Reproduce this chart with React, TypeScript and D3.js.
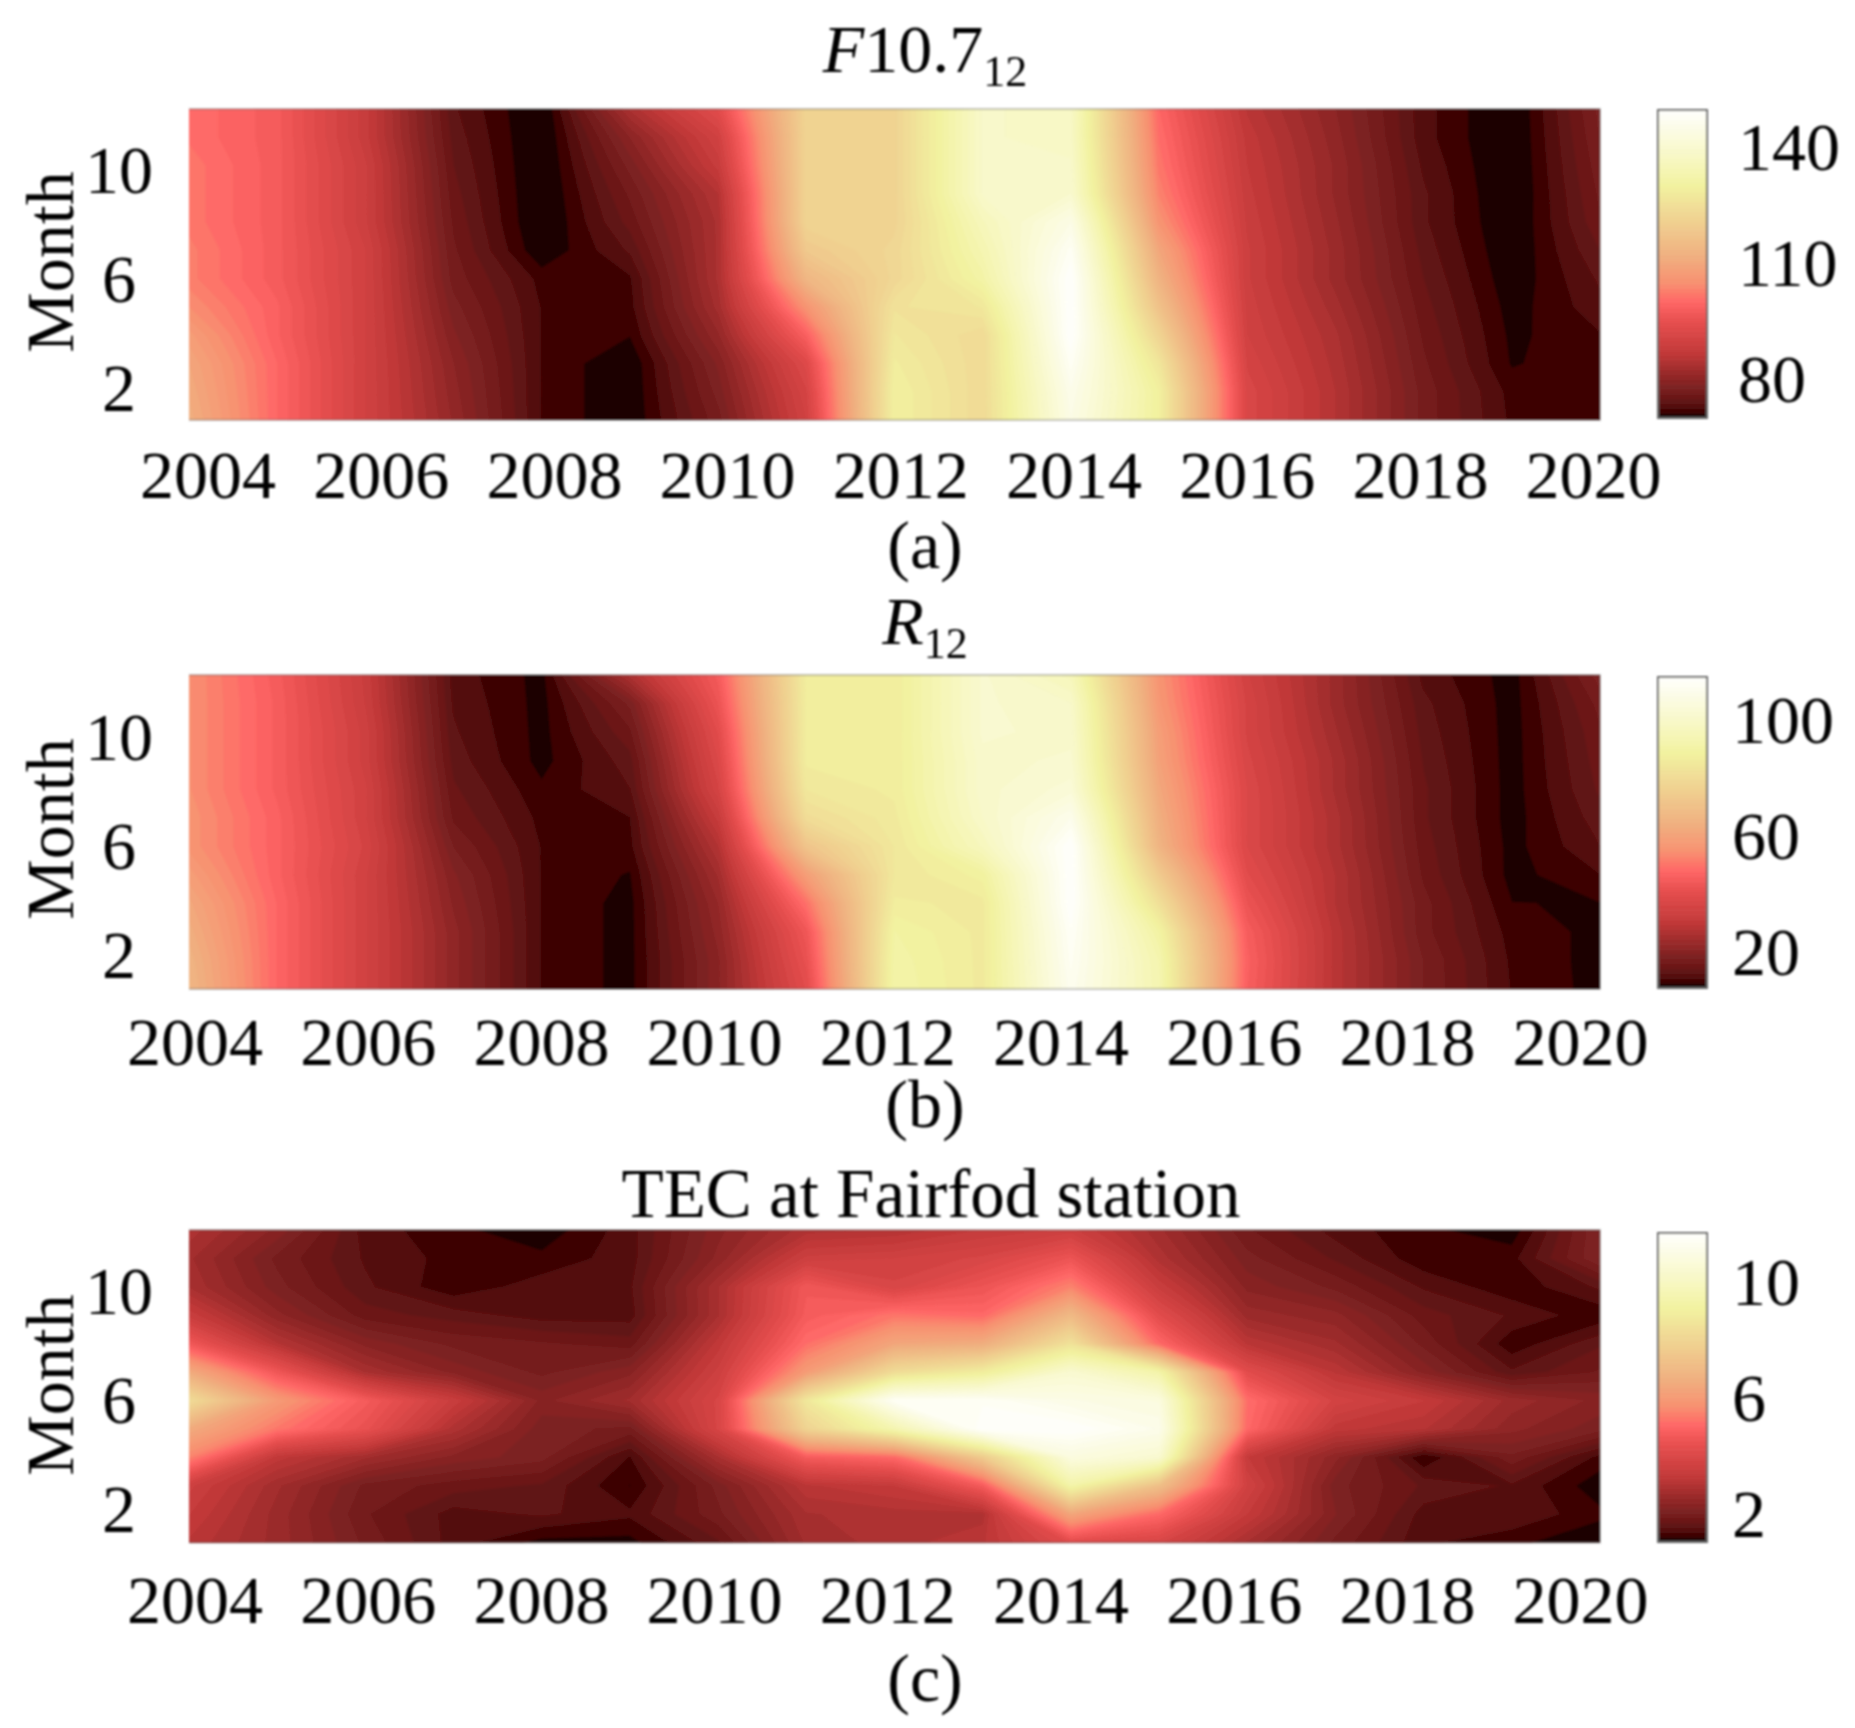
import React from "react";
import * as d3 from "d3";

const years = d3.range(2004, 2021);
const yearTicks = [2004, 2006, 2008, 2010, 2012, 2014, 2016, 2018, 2020];
const monthTicks = [2, 6, 10];

// rows: month 1 .. month 12, columns: 2004 .. 2020
const f107 = [
  [112,100,90,81,72.4,70,77,90,130,124,145,130,92,85,77,72.2,72],
  [111,100,90,80.5,72.4,70,78,91,130,124,146,130,92,85,77,72,72],
  [110,100,90,80,72.4,70,79,93,129,124,148,127,91,84.5,76.5,71.1,72.2],
  [108,99,90,79,72.4,71.3,81,99,127.6,124,150,122,90,84,76,70.9,72.4],
  [105,99,90,78,72.4,72,83,106,126,127.6,150,117,89.5,83,75.5,70.6,73.3],
  [103,98,90,77,72,72.3,84,114,123,132,150,113,89,82,75,70.2,74],
  [103,98,90,76.5,70,74,84,119,123,134,148,110,89,82,74.5,69.9,75],
  [102,98,89,76,69.5,75.5,84,122,122,136,145,106,88.5,81.5,74,69.7,76],
  [102,98,89,75.5,69.5,76.5,85,122,122,139,140,103.5,88,81,74,69.5,76.5],
  [102,98,89,75,69.5,78,88,122,122,139,139,102,87.5,81,73.5,69.5,77],
  [101,98,88,74.5,69.5,80,90,122,122,139,138,101,87,80.5,73,69.5,77.5],
  [101,98,88,74,69.5,84,94,122,122,139,138,100,86,80,73,69.5,78],
];
const r12 = [
  [67,48,35,22,11.2,9,21,40,91.5,86,111,93.6,46.5,29,18,11.2,9],
  [66,48,35,22,11.2,9,21,42,91,86,112,93,47,29,18,11,9],
  [64,48,35,22,11.2,9,22,44,90,86,113,90,46,29,17,10.6,9.2],
  [62,48,35,21,11.2,9,23,50,87,86,115,82,43,28,17,9.7,9.6],
  [59,47,35,20,11.2,9.5,25,59,85,89,115,74,40,28,16,9,11.3],
  [56,47,36,18,11.2,10.8,28,72,85,97,115,66,38,27,15.5,9,13],
  [56,47,35,16,10.8,11.3,32,81,86,100,110,64,38,27,15,8.8,14],
  [55,46,35,15,10,13,36,85,87,101,104,62,38,26,15,8.8,15],
  [55,46,34,14,9,14,38,87,87,101,102,60,37,26,14.5,8.8,15.5],
  [55,46,34,13.3,9,16,40,87,87,102,101,59,36,25,14,8.8,16],
  [55,46,33,12.8,9,18.5,43,87,87,102,100,57,36,24,13.5,8.8,17],
  [55,45.5,32.6,12.3,9,27,45.5,87,87,102,96,56,35,24,12.5,8.8,19],
];
const tec = [
  [3.14,2.6,1.96,1.43,1.1,1.1,1.64,2.71,2.93,3.14,4.21,3.89,2.82,1.96,1.37,1.21,1.02],
  [3.35,2.6,1.86,1.43,1.54,1.37,1.96,2.82,2.93,2.93,6.35,5.07,3.35,2.18,1.43,1.48,1.21],
  [3.57,2.71,1.96,1.75,1.64,1.16,2.07,3.14,3.35,4.75,9.35,7.21,3.68,2.07,1.64,1.48,1.05],
  [5.5,3.25,2.71,2.28,2.07,1.32,2.82,4.75,5.07,7.63,10.84,10.42,3.35,2.39,1.16,1.96,1.27],
  [6.5,5.3,4.42,2.93,2.07,1.96,3.89,7.96,9.56,11.7,11.7,11.17,5.07,3.25,3.03,2.39,2.07],
  [8.28,6,4.75,3.46,2.28,2.71,3.89,8.7,11.49,11.49,11.06,10.84,5.17,3.78,3.35,2.6,2.28],
  [6.5,4.6,2.82,2.28,1.96,2.28,3.57,6.03,8.28,8.92,10.42,9.35,4.21,3.14,2.28,1.54,1.86],
  [4.64,3.03,2.28,1.96,1.86,1.75,3.25,5.17,6.35,6.56,8.49,5.07,3.14,2.71,1.96,1.21,1.64],
  [3.46,2.39,1.75,1.59,1.43,1.43,2.82,4.75,5.28,5.07,6.99,4.21,2.6,2.39,1.75,1.48,1.21],
  [2.82,2.07,1.54,1.21,1.43,1.48,2.82,4.64,3.89,4.53,5.49,3.46,2.28,1.96,1.48,1.21,1.54],
  [2.71,1.96,1.48,1.27,1.21,1.43,2.39,3.57,3.68,3.89,4.53,2.93,2.07,1.64,1.21,1.27,2.18],
  [2.93,2.28,1.43,1.21,1.05,1.43,2.28,2.93,3.03,3.35,3.57,2.71,1.86,1.43,1.21,1.05,2.18],
];

const cmapStops = [0, 0.0156, 0.031, 0.047, 0.0625, 0.09, 0.2, 0.31, 0.37, 0.43, 0.52, 0.63, 0.75, 0.85, 1];
const cmapColors = ["#1e0000", "#3e0606", "#520c0c", "#601212", "#6c1818", "#7a2020", "#c03838", "#e85050", "#ff6666", "#f89070", "#f0b080", "#f0d090", "#f2f2a0", "#f8f8c8", "#ffffff"];

const LEVELS = 64;
const cmap = d3.scaleLinear<string>().domain(cmapStops).range(cmapColors).interpolate(d3.interpolateRgb).clamp(true);

const serif = "'Liberation Serif', serif";
const FS = 68;
const PLOT_L = 189;
const PLOT_R = 1600;
const BAR_L = 1658;
const BAR_R = 1707;

type Panel = {
  id: string;
  values: number[][];
  domain: [number, number];
  cbTicks: number[];
  top: number;
  bottom: number;
  barTop: number;
  barBottom: number;
  cbTickPos: [number, number];
  cbX: number;
  xLabelBase: number;
  xLabelShift: number;
  title: React.ReactNode;
  titleBase: number;
  titleX: number;
  titleSize: number;
  tag: string;
  tagBase: number;
  monthY: number;
};

const sub = (text: string) => <tspan fontSize={44} dy={14}>{text}</tspan>;

const panels: Panel[] = [
  {
    id: "a", values: f107, domain: [70, 150], cbTicks: [80, 110, 140],
    top: 109, bottom: 420, barTop: 110, barBottom: 418, cbTickPos: [402, 170], cbX: 1738,
    xLabelBase: 498, xLabelShift: 19,
    title: (<><tspan fontStyle="italic">F</tspan><tspan>10.7</tspan>{sub("12")}</>),
    titleBase: 72, titleX: 925, titleSize: 68, tag: "(a)", tagBase: 568, monthY: 262,
  },
  {
    id: "b", values: r12, domain: [8, 115], cbTicks: [20, 60, 100],
    top: 675, bottom: 989, barTop: 677, barBottom: 988, cbTickPos: [975, 743], cbX: 1732,
    xLabelBase: 1065, xLabelShift: 6,
    title: (<><tspan fontStyle="italic">R</tspan>{sub("12")}</>),
    titleBase: 644, titleX: 925, titleSize: 68, tag: "(b)", tagBase: 1127, monthY: 829,
  },
  {
    id: "c", values: tec, domain: [1, 11.7], cbTicks: [2, 6, 10],
    top: 1230, bottom: 1542.5, barTop: 1233, barBottom: 1542, cbTickPos: [1537, 1305], cbX: 1732,
    xLabelBase: 1623, xLabelShift: 6,
    title: <tspan>TEC at Fairfod station</tspan>,
    titleBase: 1217, titleX: 931, titleSize: 69, tag: "(c)", tagBase: 1701, monthY: 1385,
  },
];

function HeatPanel({ p }: { p: Panel }) {
  const [lo, hi] = p.domain;
  const nCols = years.length;
  const nRows = p.values.length;
  const flat = p.values.flat();
  const step = (hi - lo) / LEVELS;
  const thresholds = d3.range(LEVELS).map((i) => lo + step * i);
  const toT = d3.scaleLinear().domain([lo, hi]).range([0, 1]);
  const colour = (v: number) => cmap(toT(v));
  const gx = d3.scaleLinear().domain([0, nCols - 1]).range([PLOT_L, PLOT_R]);
  const gy = d3.scaleLinear().domain([0, nRows - 1]).range([p.bottom, p.top]);
  const month = d3.scaleLinear().domain([1, 12]).range([p.bottom, p.top]);
  const year = d3.scaleLinear().domain([2004, 2020]).range([PLOT_L, PLOT_L + 86.6 * 16]);
  const mid = month(6) + 23;
  const monthLabel = d3.scaleLinear().domain([2, 6, 10]).range([mid + 109, mid, mid - 109]);
  const contours = d3.contours().size([nCols, nRows]).smooth(true).thresholds(thresholds)(flat);
  const path = d3.geoPath(
    d3.geoTransform({
      point(x: number, y: number) {
        (this as any).stream.point(gx(x - 0.5), gy(y - 0.5));
      },
    })
  );
  const barY = d3.scaleLinear().domain([lo, hi]).range([p.barBottom, p.barTop]);
  const tickY = d3.scaleLinear().domain([p.cbTicks[0], p.cbTicks[2]]).range(p.cbTickPos);
  const clip = `clip-${p.id}`;
  return (
    <g>
      <clipPath id={clip}>
        <rect x={PLOT_L} y={p.top} width={PLOT_R - PLOT_L} height={p.bottom - p.top} />
      </clipPath>
      <g clipPath={`url(#${clip})`}>
        <rect x={PLOT_L} y={p.top} width={PLOT_R - PLOT_L} height={p.bottom - p.top} fill={colour(lo)} />
        {contours.map((c, i) => (
          <path key={i} d={path(c as any) || ""} fill={colour(c.value)} stroke={colour(c.value)} strokeWidth={0.4} />
        ))}
      </g>
      <path d={`M${PLOT_L},${p.top}H${PLOT_R}V${p.bottom}H${PLOT_L}`} fill="none" stroke="#555" strokeOpacity={0.5} strokeWidth={1.5} />
      <text x={p.titleX} y={p.titleBase} textAnchor="middle" fontSize={p.titleSize}>{p.title}</text>
      <text transform={`translate(73,${p.monthY}) rotate(-90)`} textAnchor="middle" fontSize={FS}>Month</text>
      {monthTicks.map((m) => (
        <text key={m} x={119} y={monthLabel(m)} textAnchor="middle" fontSize={FS}>{m}</text>
      ))}
      {yearTicks.map((y) => (
        <text key={y} x={year(y) + p.xLabelShift} y={p.xLabelBase} textAnchor="middle" fontSize={FS}>{y}</text>
      ))}
      <text x={925} y={p.tagBase} textAnchor="middle" fontSize={FS}>{p.tag}</text>
      {thresholds.map((t, i) => (
        <rect key={i} x={BAR_L} width={BAR_R - BAR_L} y={barY(t + step)} height={barY(t) - barY(t + step) + 0.6} fill={colour(t)} />
      ))}
      <rect x={BAR_L} y={p.barTop} width={BAR_R - BAR_L} height={p.barBottom - p.barTop} fill="none" stroke="#666" strokeWidth={2} />
      {p.cbTicks.map((t) => (
        <text key={t} x={p.cbX} y={tickY(t)} fontSize={FS}>{t}</text>
      ))}
    </g>
  );
}

export default function App() {
  return (
    <svg width={1855} height={1728} viewBox="0 0 1855 1728" style={{ position: "absolute", left: 0, top: 0, background: "#fff" }} fontFamily={serif} fill="#000">
      <defs>
        <filter id="soft" x="-2%" y="-2%" width="104%" height="104%">
          <feGaussianBlur stdDeviation="1.1" />
        </filter>
      </defs>
      <g filter="url(#soft)">
        {panels.map((p) => (
          <HeatPanel key={p.id} p={p} />
        ))}
      </g>
    </svg>
  );
}
